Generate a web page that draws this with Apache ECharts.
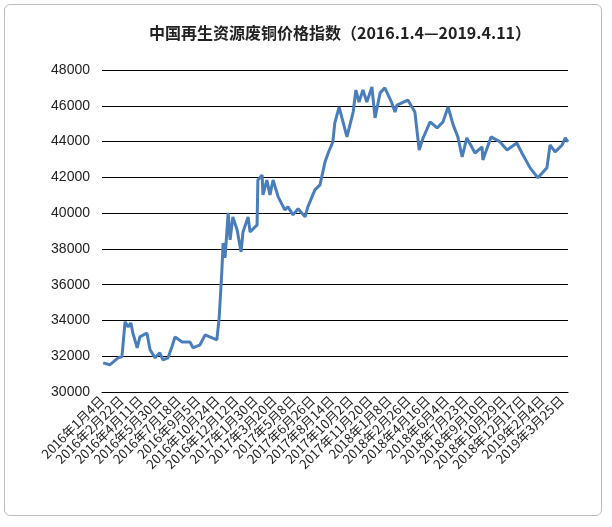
<!DOCTYPE html>
<html lang="zh">
<head>
<meta charset="UTF-8">
<script src="https://cdn.jsdelivr.net/npm/echarts@6/dist/echarts.min.js"></script>
<style>
  html, body { margin: 0; padding: 0; background: #fff; }
  #box { position: absolute; left: 4px; top: 4px; width: 596px; height: 510px; border: 1px solid #bdbdbd; border-radius: 6px; }
  #chart { width: 612px; height: 527px; }
</style>
</head>
<body>
<div id="box"></div>
<div id="chart"></div>
<script>
// x labels every 49 days from 2016-01-04
const tickLabels = ['2016年1月4日','2016年2月22日','2016年4月11日','2016年5月30日','2016年7月18日',
  '2016年9月5日','2016年10月24日','2016年12月12日','2017年1月30日','2017年3月20日','2017年5月8日',
  '2017年6月26日','2017年8月14日','2017年10月2日','2017年11月20日','2018年1月8日','2018年2月26日',
  '2018年4月16日','2018年6月4日','2018年7月23日','2018年9月10日','2018年10月29日','2018年12月17日',
  '2019年2月4日','2019年3月25日'];
// days since 2016-01-04
const days = [3,20,41,51,59,67,74,79,90,97,115,123,136,148,156,169,179,187,205,225,233,251,264,276,294,300,
  307,310,315,323,328,335,346,356,361,374,379,397,399,410,412,422,430,438,451,468,476,489,502,520,527,545,558,
  571,579,591,596,607,617,627,643,650,658,668,678,691,699,712,724,742,750,755,783,801,812,822,840,858,873,886,
  899,911,922,934,955,973,975,996,1019,1037,1062,1075,1096,1116,1139,1147,1160,1178,1186,1193];
const prices = [31630,31520,31910,31970,33920,33640,33860,33300,32470,33080,33300,32360,31910,32190,31800,31910,
  32530,33080,32800,32800,32470,32640,33190,33080,32920,34150,36830,38330,37500,40010,38500,39790,39060,37830,
  38940,39790,38940,39340,41850,42130,41020,41850,41020,41850,40910,40180,40350,39900,40240,39790,40350,41300,
  41580,42860,43360,43980,45040,45930,45100,44260,45650,46880,46210,46880,46210,47050,45320,46720,47000,46160,
  45650,46040,46320,45650,43530,44200,45100,44760,45100,45930,44930,44260,43140,44200,43360,43700,42970,44260,
  43980,43530,43920,43360,42530,41970,42530,43810,43420,43810,44200,43980];

const chart = echarts.init(document.getElementById('chart'));
chart.setOption({
  title: {
    text: '中国再生资源废铜价格指数（2016.1.4—2019.4.11）',
    left: 335, top: 20, textAlign: 'center',
    textStyle: { fontFamily: 'Noto Sans CJK SC', fontSize: 16, fontWeight: 'bold', color: '#222' }
  },
  grid: { left: 102, right: 44, top: 70, bottom: 135 },
  xAxis: {
    type: 'value', min: 0, max: 1193, interval: 49,
    axisLine: { lineStyle: { color: '#000' } },
    axisTick: { show: false },
    splitLine: { show: false },
    axisLabel: {
      rotate: 45, fontSize: 13, color: '#222', fontFamily: 'Noto Sans CJK SC', margin: 6,
      showMaxLabel: false,
      formatter: v => tickLabels[Math.round(v / 49)] || ''
    }
  },
  yAxis: {
    type: 'value', min: 30000, max: 48000, interval: 2000,
    axisLine: { show: false }, axisTick: { show: false },
    splitLine: { lineStyle: { color: '#000', width: 1 } },
    axisLabel: { fontSize: 14, color: '#222', fontFamily: 'Liberation Sans', margin: 12, formatter: v => String(v) }
  },
  series: [{
    type: 'line', symbol: 'none',
    data: days.map((d, i) => [d, prices[i]]),
    lineStyle: { color: '#4a7ebb', width: 3 }
  }]
});
</script>
</body>
</html>
